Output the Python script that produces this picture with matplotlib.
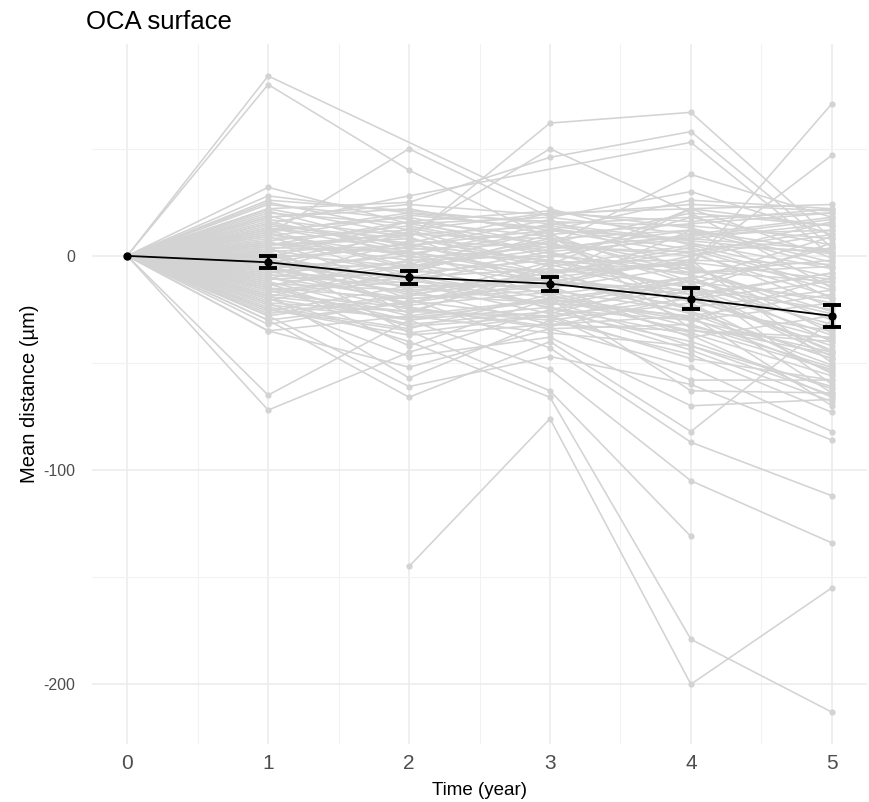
import numpy as np
import matplotlib
matplotlib.use("Agg")
import matplotlib.pyplot as plt
from matplotlib.ticker import MultipleLocator, FixedLocator

plt.rcParams['font.family'] = ['Liberation Sans', 'DejaVu Sans']
plt.rcParams['axes.unicode_minus'] = False

times = [0, 1, 2, 3, 4, 5]
N = None
# per-subject mean distance (um) at years 1..5 (baseline 0 at year 0 where present)
subjects = [
    (True, [84, N, 22, 5, 2]),
    (True, [80, 40, 8, 12, -5]),
    (True, [10, 50, 18, 30, 10]),
    (True, [5, 8, 62, 67, 8]),
    (True, [22, 25, 46, 58, 4]),
    (True, [15, 28, N, 53, 0]),
    (True, [-2, 10, 50, 20, -15]),
    (True, [32, 15, 5, 38, 18]),
    (True, [28, 20, 12, 26, 22]),
    (True, [12, -5, 8, -5, 71]),
    (True, [-8, 2, -10, -3, 47]),
    (True, [-65, -30, -20, -35, -40]),
    (True, [-72, -45, -25, -30, -45]),
    (False, [N, -145, -76, -200, -155]),
    (True, [-20, -40, -66, -179, -213]),
    (True, [-25, -35, -63, -131, N]),
    (True, [-15, -30, -53, -105, -134]),
    (True, [-10, -20, -43, -87, -112]),
    (True, [-30, -66, -40, -82, -30]),
    (True, [-28, -61, -47, -60, -86]),
    (True, [-35, -52, -34, -52, -82]),
    (True, [-18, -57, -30, -46, -73]),
    (True, [-22, -47, -38, -70, -67]),
    (True, [-12, -42, -20, -63, -64]),
    (True, [0, -36, -28, -58, -58]),
    (True, [20, 15, 18, 10, 12]),
    (True, [18, 22, 10, 15, 20]),
    (True, [25, 12, 20, 22, 24]),
    (True, [15, 5, 12, 8, 15]),
    (True, [12, 18, 5, 0, 10]),
    (True, [10, 0, 15, 18, 5]),
    (True, [8, 12, -5, 5, -10]),
    (True, [6, -2, 0, 10, 18]),
    (True, [5, 10, 8, -8, -5]),
    (True, [4, 2, -8, 2, 12]),
    (True, [3, -8, 10, -12, -20]),
    (True, [2, 5, -2, -15, -25]),
    (True, [1, -5, 3, 12, 2]),
    (True, [0, -12, -15, -5, -30]),
    (True, [-1, 4, -4, -20, -12]),
    (True, [-2, -15, -10, -25, -35]),
    (True, [-3, -6, -18, -10, -40]),
    (True, [-4, -10, 2, -18, -8]),
    (True, [-5, -18, -22, -28, -18]),
    (True, [-6, 0, -12, -2, -50]),
    (True, [-7, -22, -6, -30, -22]),
    (True, [-8, -3, -25, -15, -45]),
    (True, [-9, -14, -14, -38, -28]),
    (True, [-10, -25, -30, -22, -55]),
    (True, [-11, -8, -2, -8, -2]),
    (True, [-12, -28, -20, -12, -60]),
    (True, [-13, -16, -32, -35, -38]),
    (True, [-14, -2, -8, 4, -14]),
    (True, [-15, -20, -16, -26, -48]),
    (True, [-16, -32, -26, -40, -62]),
    (True, [-17, -12, 0, -6, -26]),
    (True, [-18, -24, -34, -32, -52]),
    (True, [-19, -4, -12, -16, 6]),
    (True, [-20, -30, -24, -44, -68]),
    (True, [-22, -26, -28, -20, -42]),
    (True, [-24, -34, -18, -36, -56]),
    (True, [-25, -37, -32, -28, -70]),
    (True, [-26, -14, -22, -10, -34]),
    (True, [-30, -22, -12, -24, -16]),
    (True, [-35, -28, -36, -42, -65]),
    (True, [14, 8, -3, -2, -4]),
    (True, [16, 3, 6, 20, 14]),
    (True, [22, 10, 14, 6, -6]),
    (True, [11, 20, 16, 14, 8]),
    (True, [9, -10, -6, -14, -32]),
    (True, [7, 14, 2, 8, 3]),
    (True, [-3, 6, 20, 16, 22]),
    (True, [-6, -17, -8, -4, -36]),
    (True, [13, 6, -12, -18, -44]),
    (True, [19, -1, 4, 2, -24]),
    (True, [2, -20, -14, 0, 16]),
    (True, [-9, -9, -20, -30, -10]),
    (True, [-1, 16, 9, -26, -48]),
    (True, [17, 9, -16, 12, -20]),
    (True, [4, -27, -4, 22, -1]),
    (True, [-13, -33, -28, -48, -58]),
    (True, [6, 1, 11, -34, -53]),
    (True, [-4, -13, -27, -11, 9]),
    (True, [-21, -7, 7, -22, -64]),
    (True, [24, 17, -1, 18, 20]),
    (True, [-27, -18, -10, 22, 14]),
    (True, [21, 4, 17, -7, -12]),
    (True, [9, 19, 13, 3, -16]),
    (True, [-5, -23, -17, -33, -46]),
    (True, [3, 11, -9, -21, -39]),
    (True, [-11, 7, 4, 9, 17]),
    (True, [-16, -10, -23, -12, -27]),
    (True, [7, -16, -11, -27, -51]),
    (True, [-23, -29, -21, -42, -61]),
    (True, [26, 21, 15, 7, 1]),
    (True, [1, -24, -33, -19, -8]),
    (True, [-7, 13, 1, -9, -22]),
    (True, [13, 2, -19, -29, -54]),
    (True, [-28, -19, -3, -15, -37]),
    (True, [-2, -11, -24, -37, -66]),
    (True, [18, 24, 19, 24, 21]),
    (True, [-14, -4, 12, 1, -19]),
    (True, [-32, -21, -29, -16, -47]),
    (True, [11, -6, 6, -13, 4]),
    (True, [5, 16, 21, 13, -3]),
    (True, [-19, -26, -7, -3, -11]),
]

mean_vals = [0, -3, -10, -13, -20, -28]
se_vals = [0, 2.8, 3.0, 3.2, 5.0, 5.0]

x_ticks = [0, 1, 2, 3, 4, 5]
y_ticks = [0, -100, -200]

fig = plt.figure(figsize=(8.7, 8.02), dpi=100)
ax = fig.add_axes([0.1057, 0.0723, 0.8909, 0.8728])

gray = '#D3D3D3'
for has0, vals in subjects:
    xs, ys = [], []
    if has0:
        xs.append(0); ys.append(0)
    for t, v in zip(times[1:], vals):
        if v is not None:
            xs.append(t); ys.append(v)
    ax.plot(xs, ys, color=gray, lw=1.15, zorder=2, solid_capstyle='round')
    ax.plot(xs, ys, 'o', color=gray, ms=4.5, mew=0, zorder=2)

ax.plot(times, mean_vals, color='black', lw=1.3, zorder=4)
ax.errorbar(times[1:], mean_vals[1:], yerr=se_vals[1:], fmt='none', ecolor='black',
            elinewidth=2.2, capsize=6.5, capthick=2.8, zorder=5)
ax.plot(times, mean_vals, 'o', color='black', ms=5, zorder=6)

ax.set_xlim(-0.25, 5.25)
ax.set_ylim(-227.9, 98.9)
ax.xaxis.set_major_locator(FixedLocator(x_ticks))
ax.xaxis.set_minor_locator(MultipleLocator(0.5))
ax.yaxis.set_major_locator(FixedLocator(y_ticks))
ax.yaxis.set_minor_locator(FixedLocator([50, -50, -150]))
ax.grid(which='major', color='#EBEBEB', lw=1.1, zorder=0)
ax.grid(which='minor', color='#F2F2F2', lw=0.8, zorder=0)
ax.set_axisbelow(True)
for s in ax.spines.values():
    s.set_visible(False)
ax.tick_params(which='both', length=0)
ax.tick_params(axis='x', labelsize=15, labelcolor='#4D4D4D', pad=7)
ax.tick_params(axis='y', labelsize=11.5, labelcolor='#4D4D4D', pad=12)

ax.set_xlabel('Time (year)', fontsize=13.5, labelpad=7)
ax.set_ylabel('Mean distance (µm)', fontsize=14.5, labelpad=3)
fig.text(0.099, 0.973, 'OCA surface', fontsize=18.5, ha='left', va='center')

fig.savefig('out.png', dpi=100)
